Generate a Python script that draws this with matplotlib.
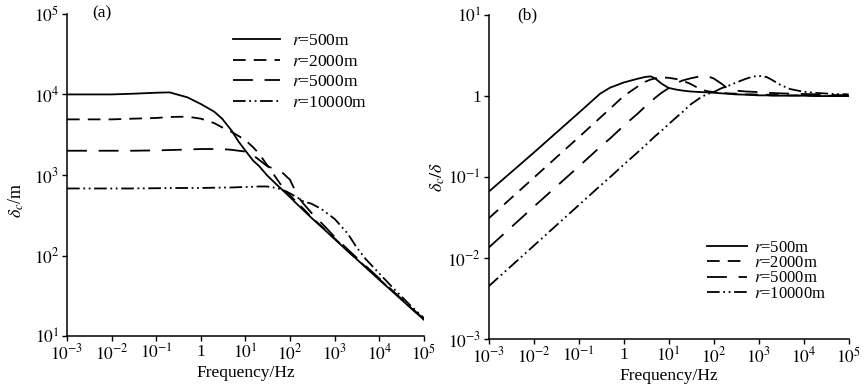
import numpy as np
import matplotlib
matplotlib.use('Agg')
import matplotlib.pyplot as plt

plt.rcParams['font.family'] = ['Liberation Serif', 'DejaVu Serif']
plt.rcParams['mathtext.fontset'] = 'stix'

# ---- data ----
radii = ['500', '2000', '5000', '10000']

# (a) delta_c in metres
freq_a = [1e-3, 3e-3, 1e-2, 3e-2, 0.1, 0.2, 0.5, 1, 2, 3, 5, 7, 10, 15, 20, 30, 50, 70,
          100, 150, 200, 300, 500, 700, 1e3, 2e3, 3e3, 5e3, 1e4, 2e4, 5e4, 1e5]
dc_500 = [1.0e4, 1.0e4, 1.0e4, 1.02e4, 1.05e4, 1.06e4, 9.2e3, 7.6e3, 6.1e3, 5.0e3, 3.5e3, 2.6e3,
          2.0e3, 1.5e3, 1.3e3, 1.0e3, 760, 640, 530, 425, 365, 295, 228, 192, 160, 112, 92, 71,
          50, 35.6, 22.5, 16]
dc_2000 = [4.9e3, 4.9e3, 4.9e3, 5.0e3, 5.1e3, 5.25e3, 5.3e3, 5.0e3, 4.4e3, 3.9e3, 3.4e3, 3.05e3,
           2.7e3, 2.2e3, 1.85e3, 1.35e3, 900, 690, 560, 440, 380, 300, 232, 195, 163, 114, 93, 72,
           51, 36, 22.7, 16.2]
dc_5000 = [2.0e3, 2.0e3, 2.0e3, 2.0e3, 2.02e3, 2.04e3, 2.07e3, 2.1e3, 2.1e3, 2.1e3, 2.05e3, 2.0e3,
           1.95e3, 1.75e3, 1.55e3, 1.3e3, 1.15e3, 1.05e3, 870, 540, 440, 340, 255, 210, 170, 118, 96, 74,
           52, 36.5, 23, 16.3]
dc_10000 = [680, 680, 680, 680, 685, 688, 690, 690, 695, 698, 700, 705, 710, 715, 720, 720, 690, 650,
            590, 520, 470, 440, 380, 330, 285, 185, 130, 90, 60, 40, 24, 16.8]

# (b) delta_c / delta
freq_b = [1e-3, 1e-2, 0.1, 0.3, 0.5, 1, 2, 3, 4, 5, 7, 10, 15, 20, 30, 50, 70, 100, 150, 200,
          300, 500, 700, 1e3, 1.5e3, 2e3, 3e3, 5e3, 1e4, 2e4, 5e4, 1e5]
ratio_500 = [0.066, 0.2, 0.62, 1.07, 1.27, 1.47, 1.63, 1.72, 1.75, 1.65, 1.42, 1.26, 1.2, 1.17,
             1.14, 1.12, 1.11, 1.1, 1.08, 1.07, 1.05, 1.04, 1.03, 1.02, 1.02, 1.01, 1.01, 1.01,
             1.01, 1.0, 1.0, 1.0]
ratio_2000 = [0.031, 0.098, 0.31, 0.54, 0.7, 1.0, 1.3, 1.5, 1.6, 1.65, 1.7, 1.68, 1.62, 1.55,
              1.42, 1.22, 1.15, 1.12, 1.1, 1.08, 1.07, 1.05, 1.05, 1.04, 1.04, 1.03, 1.03, 1.02,
              1.02, 1.01, 1.01, 1.0]
ratio_5000 = [0.0135, 0.043, 0.135, 0.235, 0.3, 0.43, 0.6, 0.74, 0.85, 0.95, 1.1, 1.25, 1.45, 1.55,
              1.65, 1.75, 1.77, 1.65, 1.42, 1.25, 1.17, 1.14, 1.13, 1.12, 1.1, 1.09, 1.08, 1.07,
              1.06, 1.05, 1.03, 1.02]
ratio_10000 = [0.0045, 0.0142, 0.045, 0.078, 0.1, 0.142, 0.2, 0.245, 0.285, 0.32, 0.375, 0.45,
               0.55, 0.63, 0.78, 0.95, 1.05, 1.12, 1.25, 1.32, 1.45, 1.62, 1.72, 1.78, 1.72, 1.58,
               1.38, 1.22, 1.13, 1.09, 1.06, 1.05]

xtick_vals = [1e-3, 1e-2, 1e-1, 1, 1e1, 1e2, 1e3, 1e4, 1e5]
xtick_labels = [r'$10^{-3}$', r'$10^{-2}$', r'$10^{-1}$', '1', r'$10^{1}$', r'$10^{2}$',
                r'$10^{3}$', r'$10^{4}$', r'$10^{5}$']
ytick_vals_a = [1e1, 1e2, 1e3, 1e4, 1e5]
ytick_labels_a = [r'$10^{1}$', r'$10^{2}$', r'$10^{3}$', r'$10^{4}$', r'$10^{5}$']
ytick_vals_b = [1e-3, 1e-2, 1e-1, 1, 1e1]
ytick_labels_b = [r'$10^{-3}$', r'$10^{-2}$', r'$10^{-1}$', '1', r'$10^{1}$']

styles = ['-', (0, (7, 4.5)), (0, (11, 6.5)), (0, (7, 2, 1, 2, 1, 2))]

fig = plt.figure(figsize=(8.65, 3.85), dpi=100)
ax1 = fig.add_axes([0.0775, 0.127, 0.4125, 0.837])
ax2 = fig.add_axes([0.565, 0.119, 0.416, 0.842])


def style_axes(ax, yvals, ylabels):
    ax.set_xscale('log')
    ax.set_yscale('log')
    ax.set_xlim(1e-3, 1e5)
    ax.set_ylim(yvals[0], yvals[-1])
    ax.spines['top'].set_visible(False)
    ax.spines['right'].set_visible(False)
    for s in ('left', 'bottom'):
        ax.spines[s].set_linewidth(1.1)
    ax.set_xticks(xtick_vals)
    ax.set_xticklabels(xtick_labels)
    ax.set_yticks(yvals)
    ax.set_yticklabels(ylabels)
    ax.minorticks_off()
    ax.tick_params(direction='out', length=3.5, width=1.0, labelsize=12.5, pad=2)
    ax.set_xlabel('Frequency/Hz', fontsize=12.5, labelpad=1)


# (a)
for vals, ls, r in zip([dc_500, dc_2000, dc_5000, dc_10000], styles, radii):
    ax1.plot(freq_a, vals, color='black', lw=1.3, ls=ls, label=r'$r$=' + r + 'm')
style_axes(ax1, ytick_vals_a, ytick_labels_a)
ax1.set_ylabel(r'$\delta_c$/m', fontsize=13)
ax1.yaxis.set_label_coords(-0.115, 0.42)
ax1.text(0.07, 1.0, '(a)', transform=ax1.transAxes, fontsize=12.5, va='center')
ax1.legend(loc='upper left', bbox_to_anchor=(233 / 865, 1 - 33 / 385),
           bbox_transform=fig.transFigure, frameon=False, fontsize=12.5,
           handlelength=2.7, handletextpad=0.7, labelspacing=0.25, borderpad=0,
           borderaxespad=0)

# (b)
for vals, ls, r in zip([ratio_500, ratio_2000, ratio_5000, ratio_10000], styles, radii):
    ax2.plot(freq_b, vals, color='black', lw=1.3, ls=ls, label=r'$r$=' + r + 'm')
style_axes(ax2, ytick_vals_b, ytick_labels_b)
ax2.set_ylabel(r'$\delta_c/\delta$', fontsize=13)
ax2.yaxis.set_label_coords(-0.115, 0.5)
ax2.text(0.08, 1.0, '(b)', transform=ax2.transAxes, fontsize=12.5, va='center')
ax2.legend(loc='upper left', bbox_to_anchor=(707 / 865, 1 - 240 / 385),
           bbox_transform=fig.transFigure, frameon=False, fontsize=12,
           handlelength=2.4, handletextpad=0.4, labelspacing=-0.05, borderpad=0,
           borderaxespad=0)

fig.savefig('out.png', dpi=100)
